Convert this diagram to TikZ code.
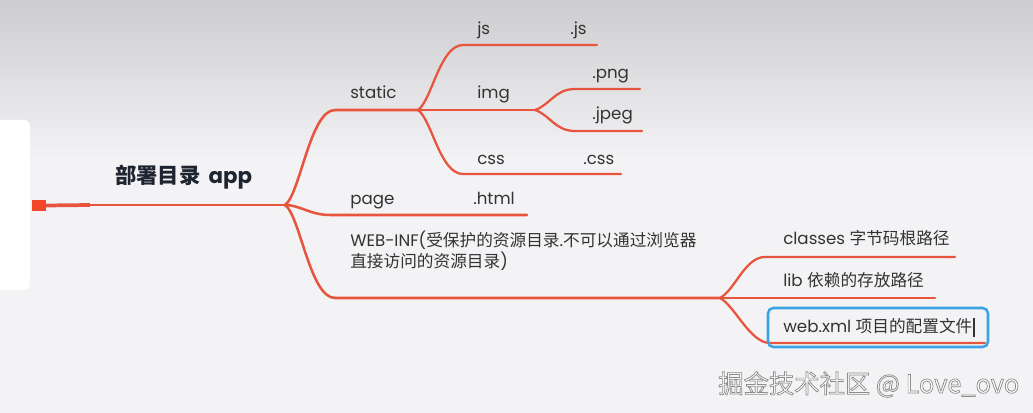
\documentclass[tikz,border=0pt]{standalone}
\usepackage{fontspec}
\setmainfont{Poppins}
\newfontfamily\cjk{Noto Sans CJK SC}
\definecolor{br}{HTML}{E8553E}
\definecolor{sq}{HTML}{F2472A}
\definecolor{bgtop}{HTML}{CDCDCF}
\definecolor{bgmid}{HTML}{F3F3F5}
\definecolor{txt}{HTML}{333333}
\definecolor{roottxt}{HTML}{1E2430}
\definecolor{sel}{HTML}{3AA3E3}
\tikzset{
  lbl/.style={anchor=base west, inner sep=0pt, text=txt, font=\fontsize{12.5}{15}\selectfont},
  mainline/.style={draw=br, line width=1.9pt, line cap=round},
  subline/.style={draw=br, line width=1.7pt, line cap=round},
}
\begin{document}
\begin{tikzpicture}[x=0.75pt,y=-0.75pt]
\useasboundingbox (0,0) rectangle (1033,413);
% background
\shade[top color=bgtop, bottom color=bgmid] (0,0) rectangle (1033,160);
\fill[bgmid] (0,160) rectangle (1033,413);
\fill[white, rounded corners=4pt] (-10,120) rectangle (30,290);

% coordinates
\coordinate (b0) at (285,205);
\coordinate (rootmid) at (90,205);
\coordinate (stc) at (335,110);
\coordinate (sfork) at (418,110);
\coordinate (pagec) at (330,215);
\coordinate (pageend) at (527,215);
\coordinate (webc) at (335,298);
\coordinate (wfork) at (720,298);
\coordinate (jsc) at (463,45);
\coordinate (jsend) at (597,45);
\coordinate (ifork) at (535,110);
\coordinate (cssc) at (463,174);
\coordinate (cssend) at (621,174);
\coordinate (pngc) at (575,89);
\coordinate (pngend) at (640,89);
\coordinate (jpegc) at (575,131);
\coordinate (jpegend) at (642,131);
\coordinate (clsc) at (765,257);
\coordinate (clsend) at (955,257);
\coordinate (libend) at (935,298);
\coordinate (wxc) at (770,343);
\coordinate (wxend) at (985,343);

% root
\node[draw=none, fill=sq, minimum width=10.5pt, minimum height=8.5pt, inner sep=0pt] (sqr) at (38.5,205.5) {};
\draw[br, line width=2.8pt] (sqr.east) -- (rootmid);
\draw[mainline] (rootmid) -- (b0);
\node[anchor=base west, inner sep=0pt, text=roottxt, font=\fontsize{16}{19}\selectfont\bfseries] (root) at (115,184) {{\cjk\bfseries 部署目录}\, app};

% main branches
\draw[mainline] (b0) .. controls (300,195) and (310,110) .. (stc) -- (sfork);
\draw[mainline] (b0) .. controls (300,205) and (310,215) .. (pagec) -- (pageend);
\draw[mainline] (b0) .. controls (300,215) and (310,298) .. (webc) -- (wfork);

% static children
\draw[subline] (sfork) .. controls (432,100) and (440,45) .. (jsc) -- (jsend);
\draw[subline] (sfork) -- (ifork);
\draw[subline] (sfork) .. controls (432,120) and (440,174) .. (cssc) -- (cssend);
\draw[subline] (ifork) .. controls (550,105) and (555,89) .. (pngc) -- (pngend);
\draw[subline] (ifork) .. controls (550,115) and (555,131) .. (jpegc) -- (jpegend);

% WEB-INF children
\draw[subline] (wfork) .. controls (735,290) and (745,257) .. (clsc) -- (clsend);
\draw[subline] (wfork) -- (libend);
\draw[subline] (wfork) .. controls (735,306) and (750,343) .. (wxc) -- (wxend);

% labels
\node[lbl] (static) at (350,99) {static};
\node[lbl] (page) at (350,205) {page};
\node[lbl] (html) at (473,205) {.html};
\node[lbl, align=left, anchor=base west] (webinf) at (350,268) {WEB-INF({\cjk 受保护的资源目录}.{\cjk 不可以通过浏览器}\\[1pt]{\cjk 直接访问的资源目录})};
\node[lbl] (js) at (477,35) {js};
\node[lbl] (jsx) at (570,35) {.js};
\node[lbl] (img) at (477,99) {img};
\node[lbl] (png) at (592,79) {.png};
\node[lbl] (jpeg) at (592,120) {.jpeg};
\node[lbl] (css) at (477,165) {css};
\node[lbl] (cssx) at (583,165) {.css};
\node[lbl] (classes) at (783,245) {classes {\cjk 字节码根路径}};
\node[lbl] (lib) at (783,287) {lib {\cjk 依赖的存放路径}};
\node[lbl] (webxml) at (783,333) {web.xml {\cjk 项目的配置文件}};

% selection box and cursor
\draw[sel, line width=1.9pt, rounded corners=4pt] (768,308) rectangle (988,347);
\draw[txt, line width=0.8pt] (974,318) -- (974,337);

% watermark
\node[anchor=base west, inner sep=0pt, font=\cjk\fontsize{19}{22}\selectfont, text=white] (wm) at (718,393)
  {\special{pdf:literal 2 Tr 0.55 w 0.55 G}掘金技术社区 @ Love\_ovo\special{pdf:literal 0 Tr}};
\end{tikzpicture}
\end{document}
